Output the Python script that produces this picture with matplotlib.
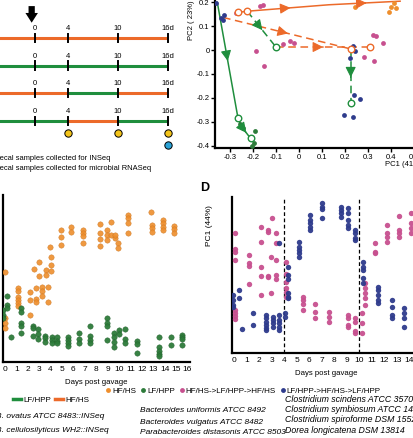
import matplotlib
matplotlib.use('Agg')
import matplotlib.pyplot as plt
from matplotlib.lines import Line2D

plt.rcParams['font.family'] = ['Liberation Sans', 'DejaVu Sans']

# ---------------- data ----------------
# Panel A: diet timeline
timeline_days = [0, 4, 10, 16]
timeline_labels = ['0', '4', '10', '16d']
phase_bounds = [-6, 4, 10, 16]
timeline_diets = [['HF/HS', 'HF/HS', 'HF/HS'],
                  ['LF/HPP', 'LF/HPP', 'LF/HPP'],
                  ['HF/HS', 'LF/HPP', 'HF/HS'],
                  ['LF/HPP', 'HF/HS', 'LF/HPP']]
inseq_days = [4, 10, 16]
rnaseq_days = [16]

# Panel B: PCA (PC1 41%, PC2 23%)
b_mag_x = [-0.274, -0.17, -0.157, -0.187, -0.152, -0.07, -0.039, -0.02, 0.32, 0.335, 0.365, 0.283, 0.326]
b_mag_y = [0.154, 0.183, 0.188, -0.004, -0.067, 0.025, 0.038, 0.029, 0.063, 0.058, 0.03, -0.03, -0.045]
b_blue_x = [-0.36, -0.34, -0.33, -0.326, 0.235, 0.243, 0.222, 0.24, 0.265, 0.196, 0.235]
b_blue_y = [0.196, 0.133, 0.125, 0.146, 0.017, -0.004, -0.035, -0.187, -0.205, -0.27, -0.28]
b_orange_x = [0.243, 0.39, 0.40, 0.413, 0.42]
b_orange_y = [0.179, 0.158, 0.18, 0.196, 0.175]
b_green_x = [-0.265, -0.256, -0.244, -0.19, -0.21, -0.204, -0.196]
b_green_y = [-0.285, -0.308, -0.325, -0.34, -0.37, -0.40, -0.388]
# trajectories
traj_hfhs_x = [-0.265, -0.225, 0.13, 0.44]
traj_hfhs_y = [0.158, 0.163, 0.19, 0.205]
traj_lfhpp_x = [-0.355, -0.265, -0.25, -0.21]
traj_lfhpp_y = [0.20, -0.285, -0.32, -0.37]
traj_blue_hf_x = [-0.33, 0.225]
traj_blue_hf_y = [0.137, 0.005]
traj_blue_lf_x = [0.225, 0.225]
traj_blue_lf_y = [0.005, -0.22]
traj_mag_lf_x = [-0.225, -0.10]
traj_mag_lf_y = [0.163, 0.013]
traj_mag_hf_x = [-0.10, 0.31]
traj_mag_hf_y = [0.013, 0.013]

# Panel C: PC1 over time, constant diets
c_hfhs_days = [0.0, 1.17, 2.19, 2.57, 2.72, 3.01, 3.22, 3.6, 3.74, 3.95, 4.04, 4.88, 5.79, 6.87,
               8.33, 8.92, 9.3, 9.65, 9.94, 10.82, 12.78, 12.9, 13.83, 14.82]
c_hfhs_vals = [[0.28, -0.18, -0.23, -0.28], [0.12, 0.09, 0.03, 0.0, -0.03, -0.06], [0.08, 0.0, -0.15],
               [0.31], [0.12, 0.01, -0.02], [0.38, 0.24], [0.13, 0.09, 0.04], [0.30, 0.25],
               [0.13, -0.02], [0.53], [0.43, 0.35, 0.29], [0.70, 0.63, 0.55], [0.73, 0.68],
               [0.70, 0.67, 0.64, 0.57], [0.76, 0.67, 0.61, 0.54], [0.70, 0.65, 0.60], [0.78, 0.65],
               [0.62, 0.65], [0.57, 0.52], [0.85, 0.82, 0.77, 0.67], [0.88], [0.75, 0.72, 0.68],
               [0.80, 0.77, 0.73, 0.70], [0.74, 0.71, 0.67]]
c_lfhpp_days = [-0.15, 0.2, 0.5, 1.37, 2.43, 2.92, 3.51, 4.09, 4.53, 5.56, 6.52, 7.46, 8.92, 9.56,
                10.03, 10.53, 11.55, 13.54, 14.53, 15.5]
c_lfhpp_vals = [[-0.10, -0.15, -0.18], [0.04, -0.05, -0.08], [-0.37], [-0.08, -0.12, -0.23, -0.26, -0.33],
                [-0.26, -0.28, -0.36], [-0.29, -0.34, -0.39], [-0.36, -0.38, -0.42], [-0.37, -0.40, -0.43],
                [-0.37, -0.41, -0.43], [-0.37, -0.40, -0.43, -0.46], [-0.33, -0.39, -0.43],
                [-0.26, -0.36, -0.40, -0.43], [-0.18, -0.23, -0.26, -0.40], [-0.33, -0.37, -0.42, -0.47],
                [-0.30, -0.34], [-0.29, -0.39, -0.43], [-0.41, -0.44, -0.53],
                [-0.37, -0.47, -0.51, -0.54, -0.56], [-0.37, -0.45], [-0.35, -0.37, -0.39, -0.45]]

# Panel D: PC1 over time, switching diets
d_mag_days = [0.05, 1.2, 2.13, 2.72, 2.9, 3.0, 3.33, 4.13, 5.47, 6.45, 7.57, 9.12, 9.65, 10.19, 10.45,
              11.25, 12.24, 13.2, 14.1]
d_mag_vals = [[0.67, 0.51, 0.48, 0.40, -0.10, -0.13, -0.16, -0.19], [0.45, 0.37, 0.34, 0.16],
              [0.73, 0.58, 0.33, 0.24, 0.05], [0.70, 0.68, 0.24, 0.23], [0.43, 0.07], [0.82],
              [0.67, 0.57, 0.40, 0.25, 0.21], [0.38, 0.26, 0.18, 0.12, 0.08, 0.03],
              [0.03, 0.0, -0.04, -0.10], [-0.04, -0.12, -0.18], [-0.12, -0.17, -0.22],
              [-0.15, -0.18, -0.25, -0.27], [-0.18, -0.22, -0.31, -0.33], [-0.13, -0.23, -0.33],
              [0.17, 0.12, 0.07, 0.02, -0.05], [0.57, 0.48, 0.47], [0.75, 0.67, 0.63, 0.58],
              [0.84, 0.70, 0.67, 0.63], [0.87, 0.77, 0.72, 0.67]]
d_blue_days = [-0.08, 0.4, 0.59, 1.52, 2.53, 3.07, 3.6, 4.05, 4.32, 5.2, 6.05, 6.99, 8.56, 9.07, 9.63,
               10.32, 11.52, 12.59, 13.57]
d_blue_vals = [[0.05, 0.0, -0.05, -0.07], [0.10, 0.02], [-0.29], [-0.13, -0.25],
               [-0.15, -0.18, -0.22, -0.25, -0.28, -0.30], [-0.17, -0.20, -0.23, -0.27],
               [0.57, -0.15, -0.20, -0.23, -0.27, -0.30], [-0.13, -0.17],
               [0.33, 0.25, 0.21, 0.07, 0.03, 0.02], [0.58, 0.53, 0.50, 0.47, 0.43],
               [0.85, 0.80, 0.77, 0.73, 0.70], [0.97, 0.93, 0.91, 0.82], [0.93, 0.90, 0.87, 0.83],
               [0.92, 0.87, 0.80, 0.75, 0.72], [0.70, 0.67, 0.62, 0.60], [0.38, 0.33, 0.30, 0.22, 0.17],
               [0.13, 0.10, 0.05, 0.0, -0.03], [0.0, -0.07, -0.15, -0.18], [-0.08, -0.13, -0.18, -0.27]]
d_switch_days = [4, 10]

strains_left = ['B. ovatus ATCC 8483::INSeq', 'B. cellulosilyticus WH2::INSeq']
strains_mid = ['Bacteroides uniformis ATCC 8492', 'Bacteroides vulgatus ATCC 8482',
               'Parabacteroides distasonis ATCC 8503']
strains_right = ['Clostridium scindens ATCC 35704', 'Clostridium symbiosum ATCC 14940',
                 'Clostridium spiroforme DSM 1552', 'Dorea longicatena DSM 13814']

# ---------------- style ----------------
ORANGE_LINE = '#EC6A2A'
GREEN_LINE = '#1F8E3D'
ORANGE_PT = '#EE8E2C'
GREEN_PT = '#2D7B3A'
MAGENTA = '#C7508F'
NAVY = '#2E3B8C'
YELLOW = '#F4C419'
CYAN = '#2AA2D6'
diet_color = {'HF/HS': ORANGE_LINE, 'LF/HPP': GREEN_LINE}

W, H = 413, 438
fig = plt.figure(figsize=(W / 100, H / 100), dpi=100)


def px_axes(x0, y0, x1, y1):
    return fig.add_axes([x0 / W, 1 - y1 / H, (x1 - x0) / W, (y1 - y0) / H])


def expand(days, vals):
    xs, ys = [], []
    for d, vs in zip(days, vals):
        for v in vs:
            xs.append(d)
            ys.append(v)
    return xs, ys


# ---------------- Panel A ----------------
axA = px_axes(0, 0, 200, 175)
axA.set_xlim(-4.21, 19.85)
axA.set_ylim(4.95, -1.37)
axA.axis('off')
for i, diets in enumerate(timeline_diets):
    for k, diet in enumerate(diets):
        axA.plot([phase_bounds[k], phase_bounds[k + 1]], [i, i], color=diet_color[diet],
                 lw=2.2, solid_capstyle='butt', zorder=2)
    for d, lab in zip(timeline_days, timeline_labels):
        axA.plot([d, d], [i - 0.15, i + 0.15], color='black', lw=1.4, zorder=3)
        axA.text(d, i - 0.22, lab, ha='center', va='bottom', fontsize=5.5)
axA.scatter(inseq_days, [3.45] * len(inseq_days), s=28, color=YELLOW, edgecolor='black',
            linewidths=0.7, zorder=4)
axA.scatter(rnaseq_days, [3.85] * len(rnaseq_days), s=28, color=CYAN, edgecolor='black',
            linewidths=0.7, zorder=4)
axA.annotate('', xy=(-0.4, -0.45), xytext=(-0.4, -1.25),
             arrowprops=dict(arrowstyle='simple,head_length=0.7,head_width=0.9,tail_width=0.45',
                             color='black', lw=0))
fig.text(-5 / W, 1 - 158 / H, 'Fecal samples collected for INSeq', fontsize=5.4, va='center', ha='left')
fig.text(-5 / W, 1 - 168 / H, 'Fecal samples collected for microbial RNASeq', fontsize=5.4,
         va='center', ha='left')


# ---------------- Panel B ----------------
def arrow_mid(ax, xs, ys, color):
    for j in range(len(xs) - 1):
        x0, y0, x1, y1 = xs[j], ys[j], xs[j + 1], ys[j + 1]
        if abs(x1 - x0) + abs(y1 - y0) < 0.08:
            continue
        mx, my = (x0 + x1) / 2, (y0 + y1) / 2
        ax.annotate('', xy=(mx + (x1 - x0) * 0.03, my + (y1 - y0) * 0.03),
                    xytext=(mx - (x1 - x0) * 0.03, my - (y1 - y0) * 0.03),
                    arrowprops=dict(arrowstyle='-|>,head_length=0.7,head_width=0.35',
                                    color=color, lw=0.8, mutation_scale=9), zorder=5)


axB = px_axes(215, 0, 417.6, 148)
axB.set_xlim(-0.365, 0.516)
axB.set_ylim(-0.41, 0.21)
for s in ['top', 'right']:
    axB.spines[s].set_visible(False)
for s in ['left', 'bottom']:
    axB.spines[s].set_linewidth(1.6)
axB.set_xticks([-0.3, -0.2, -0.1, 0, 0.1, 0.2, 0.3, 0.4, 0.5])
axB.set_xticklabels(['-0.3', '-0.2', '-0.1', '0', '0.1', '0.2', '0.3', '0.4', '0.5'])
axB.set_yticks([-0.4, -0.3, -0.2, -0.1, 0, 0.1, 0.2])
axB.set_yticklabels(['-0.4', '-0.3', '-0.2', '-0.1', '0', '0.1', '0.2'])
axB.tick_params(labelsize=5.5, length=3, width=1, pad=1.0)
axB.set_xlabel('PC1 (41%)', fontsize=5.5, labelpad=0)
axB.xaxis.set_label_coords(0.93, -0.085)
axB.set_ylabel('PC2 ( 23%)', fontsize=5.5)
axB.yaxis.set_label_coords(-0.1, 0.865)

axB.plot(traj_hfhs_x, traj_hfhs_y, color=ORANGE_LINE, lw=1.1, zorder=3)
arrow_mid(axB, traj_hfhs_x, traj_hfhs_y, ORANGE_LINE)
axB.plot(traj_lfhpp_x, traj_lfhpp_y, color=GREEN_LINE, lw=1.1, zorder=3)
arrow_mid(axB, traj_lfhpp_x, traj_lfhpp_y, GREEN_LINE)
for xs, ys, c in [(traj_blue_hf_x, traj_blue_hf_y, ORANGE_LINE), (traj_blue_lf_x, traj_blue_lf_y, GREEN_LINE),
                  (traj_mag_lf_x, traj_mag_lf_y, GREEN_LINE), (traj_mag_hf_x, traj_mag_hf_y, ORANGE_LINE)]:
    axB.plot(xs, ys, color=c, lw=1.1, ls=(0, (5, 3)), zorder=3)
    arrow_mid(axB, xs, ys, c)
    axB.scatter([xs[-1]], [ys[-1]], s=22, facecolor='white', edgecolor=c, linewidths=1.0, zorder=6)
axB.scatter(traj_hfhs_x[:2], traj_hfhs_y[:2], s=22, facecolor='white', edgecolor=ORANGE_LINE,
            linewidths=1.0, zorder=6)
axB.scatter([traj_lfhpp_x[1], traj_lfhpp_x[3]], [traj_lfhpp_y[1], traj_lfhpp_y[3]], s=22,
            facecolor='white', edgecolor=GREEN_LINE, linewidths=1.0, zorder=6)
axB.scatter(b_mag_x, b_mag_y, s=12, color=MAGENTA, lw=0, zorder=4)
axB.scatter(b_blue_x, b_blue_y, s=12, color=NAVY, lw=0, zorder=4)
axB.scatter(b_orange_x, b_orange_y, s=12, color=ORANGE_PT, lw=0, zorder=4)
axB.scatter(b_green_x, b_green_y, s=12, color=GREEN_PT, lw=0, zorder=4)


# ---------------- Panels C & D ----------------
def style_time_axes(ax, ticks):
    for s in ['top', 'right']:
        ax.spines[s].set_visible(False)
    for s in ['left', 'bottom']:
        ax.spines[s].set_linewidth(1.6)
    ax.set_yticks([])
    ax.set_xticks(ticks)
    ax.tick_params(axis='x', labelsize=6, length=0, pad=3)
    ax.set_xlabel('Days post gavage', fontsize=5.6, labelpad=4)


axC = px_axes(3, 195, 190, 362)
axC.set_xlim(-0.175, 16.23)
axC.set_ylim(-0.62, 1.05)
style_time_axes(axC, list(range(0, 17)))
x, y = expand(c_hfhs_days, c_hfhs_vals)
axC.scatter(x, y, s=15, color=ORANGE_PT, edgecolor='#C9741F', linewidths=0.3, alpha=0.9, zorder=3)
x, y = expand(c_lfhpp_days, c_lfhpp_vals)
axC.scatter(x, y, s=15, color=GREEN_PT, edgecolor='#1F5E2A', linewidths=0.3, alpha=0.95, zorder=3)

axD = px_axes(232, 197, 420, 353)
axD.set_xlim(-0.18, 14.86)
axD.set_ylim(-0.53, 1.03)
style_time_axes(axD, list(range(0, 15)))
axD.set_ylabel('PC1 (44%)', fontsize=6)
axD.yaxis.set_label_coords(-0.1, 0.82)
for d in d_switch_days:
    axD.axvline(d, color='black', lw=0.9, ls=(0, (3, 2)), zorder=1)
x, y = expand(d_mag_days, d_mag_vals)
axD.scatter(x, y, s=15, color=MAGENTA, lw=0, alpha=0.95, zorder=3)
x, y = expand(d_blue_days, d_blue_vals)
axD.scatter(x, y, s=15, color=NAVY, lw=0, alpha=0.95, zorder=3)
fig.text(205 / W, 1 - 188 / H, 'D', fontsize=9, fontweight='bold', va='center', ha='center')

# ---------------- legends ----------------
h1 = [Line2D([], [], color=GREEN_LINE, lw=2.5), Line2D([], [], color=ORANGE_LINE, lw=2.5)]
fig.legend(h1, ['LF/HPP', 'HF/HS'], loc='center left', bbox_to_anchor=(13 / W, 1 - 400 / H),
           ncol=2, frameon=False, fontsize=5.8, handlelength=1.0, handletextpad=0.35,
           columnspacing=0.4, borderpad=0, borderaxespad=0)
h2 = [Line2D([], [], ls='', marker='o', ms=3.5, mew=0, color=c) for c in [ORANGE_PT, GREEN_PT, MAGENTA, NAVY]]
fig.legend(h2, ['HF/HS', 'LF/HPP', 'HF/HS->LF/HPP->HF/HS', 'LF/HPP->HF/HS->LF/HPP'],
           loc='center left', bbox_to_anchor=(106 / W, 1 - 391 / H), ncol=4, frameon=False,
           fontsize=5.8, handlelength=0.5, handletextpad=0.25, columnspacing=0.6,
           borderpad=0, borderaxespad=0)

# ---------------- strain lists ----------------
for k, s in enumerate(strains_left):
    fig.text(-4 / W, 1 - (417 + 13 * k) / H, s, fontsize=6, style='italic', va='center')
for k, s in enumerate(strains_mid):
    fig.text(140 / W, 1 - (411 + 11 * k) / H, s, fontsize=6, style='italic', va='center')
for k, s in enumerate(strains_right):
    fig.text(285 / W, 1 - (399 + 10.5 * k) / H, s, fontsize=6.3, style='italic', va='center')

fig.savefig('out.png', dpi=100)
